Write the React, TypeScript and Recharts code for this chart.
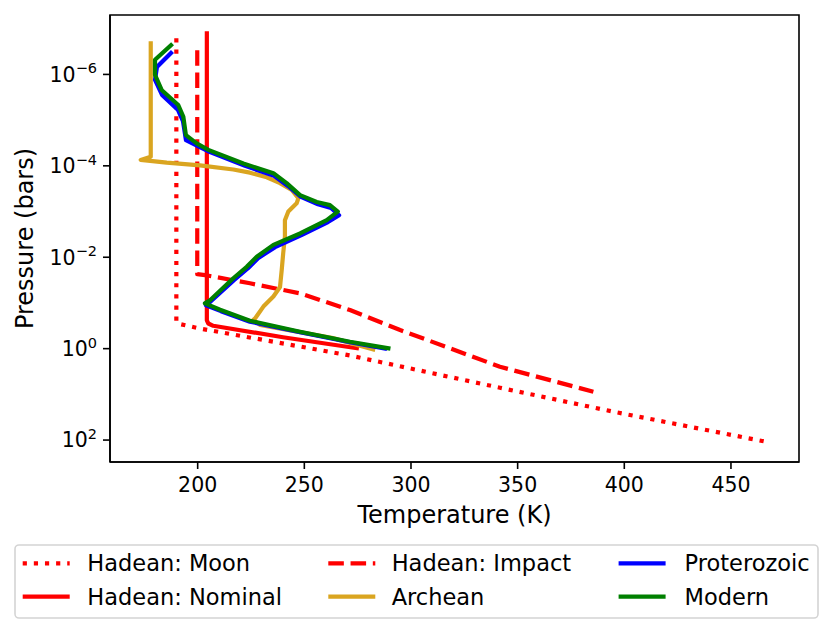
import React from 'react';
import { ScatterChart, Scatter, XAxis, YAxis, ReferenceArea } from 'recharts';

const FONT = '"DejaVu Sans", Verdana, sans-serif';

// Tick values
const xTicks = [200, 250, 300, 350, 400, 450];
const yTickExponents = [-6, -4, -2, 0, 2];

// Axis ranges (temperature K, log10 pressure bars)
const xDomain = [158.9, 481.9];
const yLogDomain = [-7.3, 2.48];

// Hadean: Moon
const moonT = [190.0, 190.0, 190.5, 201.1, 271.4, 341.7, 394.9, 466.8];
const moonLogP = [-6.79, -0.6, -0.55, -0.44, 0.15, 0.855, 1.38, 2.04];

// Hadean: Nominal
const nominalT = [204.3, 204.3, 205.0, 207.3, 240.0, 274.6];
const nominalLogP = [-6.9, -0.62, -0.55, -0.5, -0.25, -0.01];

// Hadean: Impact
const impactT = [199.8, 199.8, 203.5, 224.5, 248.0, 271.4, 294.9, 318.3, 341.7, 385.5];
const impactLogP = [-6.53, -1.63, -1.61, -1.43, -1.21, -0.845, -0.407, -0.007, 0.396, 0.943];

// Archean
const archeanT = [178.0, 178.0, 173.3, 185.5, 201.1, 216.7, 224.5, 232.4, 238.6, 244.1, 247.2, 246.4, 242.5, 240.9, 240.9, 240.1, 239.4, 238.6, 235.5, 230.8, 226.9, 226.1, 229.2, 263.4, 282.3];
const archeanLogP = [-6.68, -4.2, -4.13, -4.07, -4.01, -3.92, -3.85, -3.75, -3.62, -3.47, -3.29, -3.18, -3.0, -2.81, -2.45, -2.09, -1.72, -1.35, -1.14, -0.92, -0.66, -0.63, -0.52, -0.23, 0.015];

// Proterozoic
const proterozoicT = [187.5, 180.9, 180.0, 183.3, 190.8, 193.1, 194.5, 200.1, 205.8, 222.2, 235.8, 242.3, 248.4, 256.4, 262.5, 266.3, 261.1, 248.9, 236.3, 228.3, 223.6, 217.0, 205.8, 203.9, 210.9, 224.5, 248.0, 271.4, 287.8];
const proterozoicLogP = [-6.47, -6.16, -5.88, -5.55, -5.22, -4.98, -4.56, -4.43, -4.3, -4.0, -3.78, -3.56, -3.32, -3.16, -3.08, -2.92, -2.77, -2.49, -2.22, -1.98, -1.76, -1.5, -1.02, -0.95, -0.82, -0.59, -0.36, -0.14, 0.0];

// Modern
const modernT = [187.5, 180.0, 180.0, 183.1, 190.9, 193.3, 194.5, 199.5, 205.0, 221.4, 235.5, 241.7, 248.0, 255.8, 262.0, 265.7, 260.5, 248.0, 235.5, 227.7, 223.0, 216.7, 205.8, 203.4, 210.5, 224.5, 248.0, 271.4, 289.4];
const modernLogP = [-6.64, -6.32, -5.99, -5.66, -5.33, -5.07, -4.67, -4.49, -4.35, -4.05, -3.84, -3.62, -3.36, -3.21, -3.14, -3.0, -2.81, -2.52, -2.27, -2.01, -1.79, -1.54, -1.06, -0.99, -0.85, -0.61, -0.37, -0.15, -0.007];

const toPoints = (t: number[], lp: number[]) => t.map((v, i) => ({ t: v, p: Math.pow(10, lp[i]) }));

const LW = 4.2;
const series = [
  { name: 'Hadean: Moon', data: toPoints(moonT, moonLogP), color: '#ff0000', dash: `${LW * 1} ${LW * 1.65}`, cap: 'butt' },
  { name: 'Hadean: Nominal', data: toPoints(nominalT, nominalLogP), color: '#ff0000', dash: undefined, cap: 'square' },
  { name: 'Hadean: Impact', data: toPoints(impactT, impactLogP), color: '#ff0000', dash: `${LW * 3.7} ${LW * 1.6}`, cap: 'butt' },
  { name: 'Archean', data: toPoints(archeanT, archeanLogP), color: '#daa520', dash: undefined, cap: 'square' },
  { name: 'Proterozoic', data: toPoints(proterozoicT, proterozoicLogP), color: '#0000ff', dash: undefined, cap: 'square' },
  { name: 'Modern', data: toPoints(modernT, modernLogP), color: '#008000', dash: undefined, cap: 'square' },
];

const legendOrder = [
  ['Hadean: Moon', 'Hadean: Nominal'],
  ['Hadean: Impact', 'Archean'],
  ['Proterozoic', 'Modern'],
];

const W = 830;
const H = 633;
const PLOT_LEFT = 110;
const PLOT_RIGHT = 799;
const PLOT_TOP = 15;
const PLOT_BOTTOM = 462;
const Y_AXIS_W = 100;
const X_AXIS_H = 60;

const XTick = (props: any) => {
  const { x, y, payload } = props;
  return (
    <text x={x} y={y + 23} textAnchor="middle" fontFamily={FONT} fontSize={20.5} fill="#000">
      {payload.value}
    </text>
  );
};

const YTick = (props: any) => {
  const { x, y, payload } = props;
  const e = Math.round(Math.log10(payload.value));
  const expStr = e < 0 ? `\u2212${-e}` : `${e}`;
  return (
    <text x={x - 6} y={y + 7.4} textAnchor="end" fontFamily={FONT} fontSize={20.5} fill="#000">
      10
      <tspan dy={-8.5} fontSize={14.5}>{expStr}</tspan>
    </text>
  );
};

const Legend = () => {
  const colX = [22.7, 328.3, 618.6];
  const textX = [87.3, 391.7, 684.6];
  const rowY = [563.3, 596.7];
  const byName: Record<string, any> = {};
  series.forEach((s) => (byName[s.name] = s));
  return (
    <svg width={W} height={H} style={{ position: 'absolute', left: 0, top: 0, pointerEvents: 'none' }}>
      <rect x={15} y={545} width={803} height={73} rx={4} ry={4} fill="#fff" fillOpacity={0.8} stroke="#d4d4d4" strokeWidth={1.6} />
      {legendOrder.map((col, ci) =>
        col.map((name, ri) => {
          const s = byName[name];
          return (
            <g key={name}>
              <line
                x1={colX[ci]}
                x2={colX[ci] + 47}
                y1={rowY[ri]}
                y2={rowY[ri]}
                stroke={s.color}
                strokeWidth={LW}
                strokeDasharray={s.dash}
                strokeLinecap="butt"
              />
              <text x={textX[ci]} y={rowY[ri] + 8} fontFamily={FONT} fontSize={22.5} fill="#000">
                {name}
              </text>
            </g>
          );
        })
      )}
    </svg>
  );
};

export default function App() {
  const yTicks = yTickExponents.map((e) => Math.pow(10, e));
  const yDomain = [Math.pow(10, yLogDomain[0]), Math.pow(10, yLogDomain[1])];
  return (
    <div style={{ position: 'absolute', left: 0, top: 0, width: W, height: H, background: '#fff' }}>
      <ScatterChart
        width={W}
        height={H}
        margin={{
          top: PLOT_TOP,
          right: W - PLOT_RIGHT,
          bottom: H - PLOT_BOTTOM - X_AXIS_H,
          left: PLOT_LEFT - Y_AXIS_W,
        }}
      >
        <XAxis
          type="number"
          dataKey="t"
          domain={xDomain}
          ticks={xTicks}
          allowDataOverflow
          height={X_AXIS_H}
          tickSize={7}
          tickMargin={0}
          tick={(p: any) => <XTick {...p} />}
          axisLine={{ stroke: '#000', strokeWidth: 1.6 }}
          tickLine={{ stroke: '#000', strokeWidth: 1.6 }}
        />
        <YAxis
          type="number"
          dataKey="p"
          scale="log"
          domain={yDomain}
          ticks={yTicks}
          reversed
          allowDataOverflow
          width={Y_AXIS_W}
          tickSize={7}
          tickMargin={0}
          tick={(p: any) => <YTick {...p} />}
          axisLine={{ stroke: '#000', strokeWidth: 1.6 }}
          tickLine={{ stroke: '#000', strokeWidth: 1.6 }}
        />
        {series.map((s) => (
          <Scatter
            key={s.name}
            name={s.name}
            data={s.data}
            fill={s.color}
            isAnimationActive={false}
            shape={() => <g />}
            line={{
              stroke: s.color,
              strokeWidth: LW,
              strokeDasharray: s.dash,
              strokeLinecap: s.cap,
              strokeLinejoin: 'round',
              fill: 'none',
            }}
          />
        ))}
        <ReferenceArea
          x1={xDomain[0]}
          x2={xDomain[1]}
          y1={yDomain[0]}
          y2={yDomain[1]}
          fill="none"
          fillOpacity={0}
          stroke="#000"
          strokeWidth={1.6}
          ifOverflow="visible"
        />
      </ScatterChart>
      <svg width={W} height={H} style={{ position: 'absolute', left: 0, top: 0, pointerEvents: 'none' }}>
        <text x={(PLOT_LEFT + PLOT_RIGHT) / 2} y={522.5} textAnchor="middle" fontFamily={FONT} fontSize={24} fill="#000">
          Temperature (K)
        </text>
        <text
          x={32.5}
          y={(PLOT_TOP + PLOT_BOTTOM) / 2}
          transform={`rotate(-90 32.5 ${(PLOT_TOP + PLOT_BOTTOM) / 2})`}
          textAnchor="middle"
          fontFamily={FONT}
          fontSize={24}
          fill="#000"
        >
          Pressure (bars)
        </text>
      </svg>
      <Legend />
    </div>
  );
}
